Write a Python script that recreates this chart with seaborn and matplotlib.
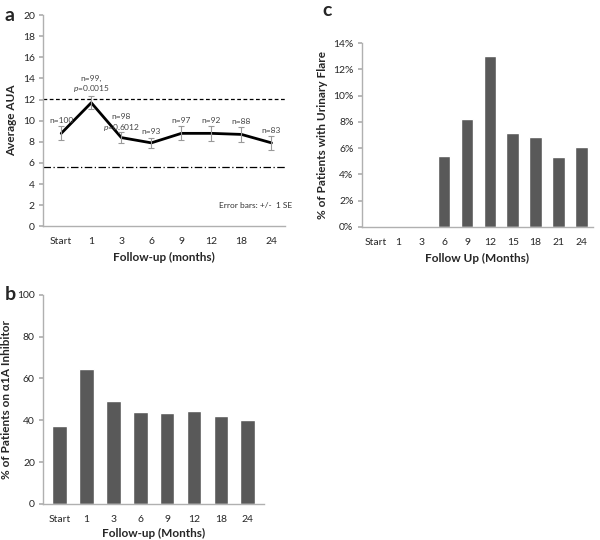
import matplotlib
matplotlib.use("Agg")
import matplotlib.pyplot as plt
import seaborn as sns
import pandas as pd

# panel a: average AUA score
MONTHS_A = ["Start", "1", "3", "6", "9", "12", "18", "24"]
AUA_MEAN = [8.8, 11.7, 8.4, 7.9, 8.8, 8.8, 8.7, 7.9]
AUA_SE = [0.65, 0.6, 0.55, 0.5, 0.65, 0.7, 0.7, 0.65]
N_LABELS = ["n=100", "n=99,", "n=98", "n=93", "n=97", "n=92", "n=88", "n=83"]
P_LABELS = {1: "0.0015", 2: "0.6012"}
UPPER_LINE = 12.1
LOWER_LINE = 5.65

# panel b: alpha-1A inhibitor use
MONTHS_B = ["Start", "1", "3", "6", "9", "12", "18", "24"]
ALPHA_PCT = [37, 64.5, 49, 44, 43.3, 44.5, 42, 40]

# panel c: urinary flare
MONTHS_C = ["Start", "1", "3", "6", "9", "12", "15", "18", "21", "24"]
FLARE_PCT = [0, 0, 0, 5.4, 8.25, 13.05, 7.15, 6.85, 5.3, 6.05]

BAR = "#595959"
SPINE = "#b0b0b0"

sns.set_theme(style="white")
plt.rcParams["font.family"] = ["Lato", "DejaVu Sans"]
plt.rcParams["mathtext.fontset"] = "custom"
plt.rcParams["mathtext.it"] = "Lato:italic"


def style_axes(ax):
    sns.despine(ax=ax)
    for s in ("left", "bottom"):
        ax.spines[s].set_color(SPINE)
        ax.spines[s].set_linewidth(1.0)
    ax.tick_params(axis="y", left=True, length=3, color=SPINE, labelsize=7.5, pad=3)
    ax.tick_params(axis="x", bottom=False, labelsize=7.5, pad=2)


fig = plt.figure(figsize=(6, 5.4), dpi=100)

# ---- a ----
ax_a = fig.add_axes([0.072, 0.581, 0.403, 0.391])
df_a = pd.DataFrame({"month": MONTHS_A, "aua": AUA_MEAN})
xs = list(range(len(MONTHS_A)))
sns.lineplot(x=xs, y=df_a["aua"], ax=ax_a, color="black", linewidth=2)
ax_a.errorbar(xs, AUA_MEAN, yerr=AUA_SE, fmt="none", ecolor="#999999",
              elinewidth=0.8, capsize=2.5, capthick=0.8)
ax_a.axhline(UPPER_LINE, color="black", linestyle=(0, (3, 2)), linewidth=0.9)
ax_a.axhline(LOWER_LINE, color="black", linestyle=(0, (6, 2, 1, 2)), linewidth=0.9)
for i, lab in enumerate(N_LABELS):
    y_top = AUA_MEAN[i] + AUA_SE[i]
    if i in P_LABELS:
        ax_a.text(i, y_top + 1.7 if i == 1 else y_top + 1.4, lab, ha="center", va="center",
                  fontsize=6, color="#444444")
        ax_a.text(i, y_top + 0.75 if i == 1 else y_top + 0.45,
                  "$p$=" + P_LABELS[i], ha="center", va="center",
                  fontsize=6, color="#444444")
    else:
        ax_a.text(i, y_top + 0.55, lab, ha="center", va="center",
                  fontsize=6, color="#444444")
ax_a.text(7.7, 2.0, "Error bars: +/-  1 SE", ha="right", va="center",
          fontsize=6, color="#333333")
ax_a.set_xlim(-0.6, 7.45)
ax_a.set_ylim(0, 20)
ax_a.set_yticks(range(0, 21, 2))
ax_a.set_xticks(xs)
ax_a.set_xticklabels(MONTHS_A)
ax_a.set_xlabel("Follow-up (months)", fontsize=8.5, fontweight="bold", labelpad=4)
ax_a.set_ylabel("Average AUA", fontsize=8.5, fontweight="bold", labelpad=4)
style_axes(ax_a)

# ---- b ----
ax_b = fig.add_axes([0.072, 0.067, 0.368, 0.387])
df_b = pd.DataFrame({"month": MONTHS_B, "pct": ALPHA_PCT})
sns.barplot(data=df_b, x="month", y="pct", ax=ax_b, color=BAR,
            saturation=1, width=0.55, order=MONTHS_B)
ax_b.set_ylim(0, 100)
ax_b.set_yticks(range(0, 101, 20))
ax_b.set_xlim(-0.6, 7.6)
ax_b.set_xlabel("Follow-up (Months)", fontsize=8.5, fontweight="bold", labelpad=3)
ax_b.set_ylabel("% of Patients on \u03b11A Inhibitor", fontsize=8.5,
                fontweight="bold", labelpad=4)
style_axes(ax_b)

# ---- c ----
ax_c = fig.add_axes([0.603, 0.580, 0.385, 0.340])
df_c = pd.DataFrame({"month": MONTHS_C, "pct": FLARE_PCT})
sns.barplot(data=df_c, x="month", y="pct", ax=ax_c, color=BAR,
            saturation=1, width=0.55, order=MONTHS_C)
ax_c.set_ylim(0, 14)
ax_c.set_yticks(range(0, 15, 2))
ax_c.set_yticklabels([f"{v}%" for v in range(0, 15, 2)])
ax_c.set_xlim(-0.6, 9.5)
ax_c.set_xlabel("Follow Up (Months)", fontsize=8.5, fontweight="bold", labelpad=4)
ax_c.set_ylabel("% of Patients with Urinary Flare", fontsize=8.5,
                fontweight="bold", labelpad=4)
style_axes(ax_c)

# panel letters
fig.text(0.008, 0.972, "a", fontsize=14, fontweight="bold", va="center")
fig.text(0.008, 0.455, "b", fontsize=14, fontweight="bold", va="center")
fig.text(0.538, 0.980, "c", fontsize=14, fontweight="bold", va="center")

fig.savefig("out.png", dpi=100)
